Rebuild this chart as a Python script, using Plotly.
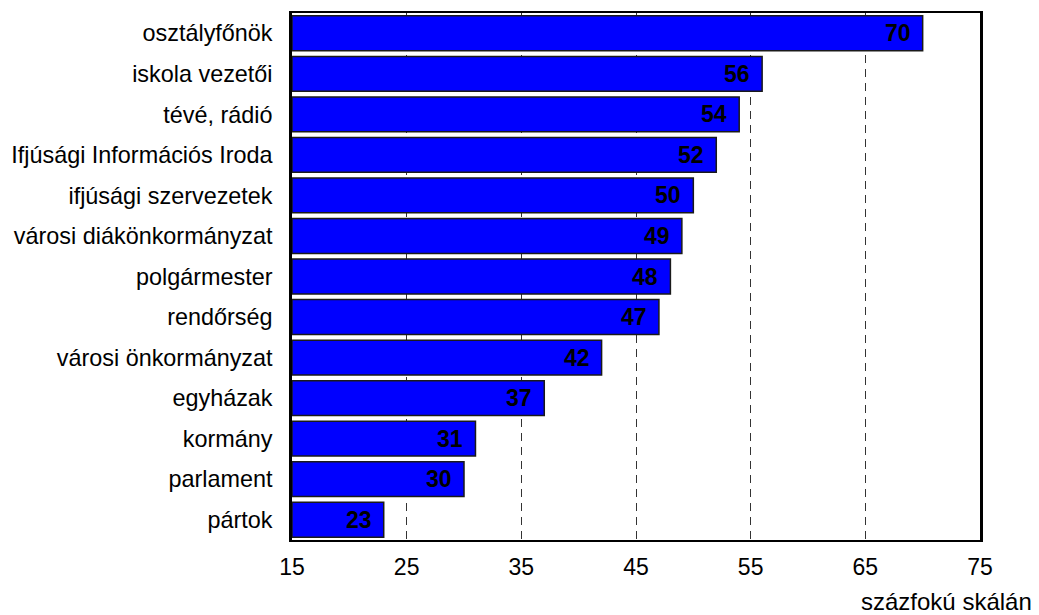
import plotly.graph_objects as go

categories = ["osztályfőnök", "iskola vezetői", "tévé, rádió", "Ifjúsági Információs Iroda",
              "ifjúsági szervezetek", "városi diákönkormányzat", "polgármester", "rendőrség",
              "városi önkormányzat", "egyházak", "kormány", "parlament", "pártok"]
values = [70, 56, 54, 52, 50, 49, 48, 47, 42, 37, 31, 30, 23]
tick_vals = [15, 25, 35, 45, 55, 65, 75]
axis_title = "százfokú skálán"
BASE = 15

FONT = "Arial, Liberation Sans, sans-serif"

fig = go.Figure()
fig.add_trace(go.Bar(
    x=[v - BASE for v in values], y=categories, orientation="h", base=BASE,
    marker=dict(color="#0000FF", line=dict(color="#1a1a1a", width=1.5)),
    width=0.86, hoverinfo="skip",
))

for c, v in zip(categories, values):
    fig.add_annotation(x=v, y=c, xref="x", yref="y", text=f"<b>{v}</b>",
                       showarrow=False, xanchor="right", xshift=-10, yshift=0,
                       font=dict(family=FONT, size=23, color="black"))

fig.add_annotation(x=1.078, y=-0.1474, xref="paper", yref="paper", text=axis_title,
                   showarrow=False, xanchor="right", yanchor="bottom", yshift=1,
                   font=dict(family=FONT, size=24, color="black"))

fig.update_layout(
    width=1039, height=615,
    margin=dict(l=290, r=59, t=11, b=75),
    plot_bgcolor="white", paper_bgcolor="white",
    showlegend=False,
    font=dict(family=FONT, color="black"),
    xaxis=dict(range=[15, 75], tickvals=tick_vals, ticktext=[str(t) for t in tick_vals],
               showgrid=True, gridcolor="#333333", gridwidth=1, griddash="8px,6px",
               zeroline=False, showline=True, linecolor="black", linewidth=1.5, mirror=True,
               ticks="", tickfont=dict(size=23, family=FONT), ticklabelstandoff=6),
    yaxis=dict(categoryorder="array", categoryarray=categories,
               autorange=False, range=[12.5, -0.5], showgrid=False, zeroline=False,
               showline=True, linecolor="black", linewidth=2.5, mirror=True,
               ticks="", tickfont=dict(size=23.4, family=FONT), ticklabelstandoff=12),
)
fig.write_html("out.html", config={"displayModeBar": False},
               post_script="document.body.style.margin='0';document.body.style.overflow='hidden';")
